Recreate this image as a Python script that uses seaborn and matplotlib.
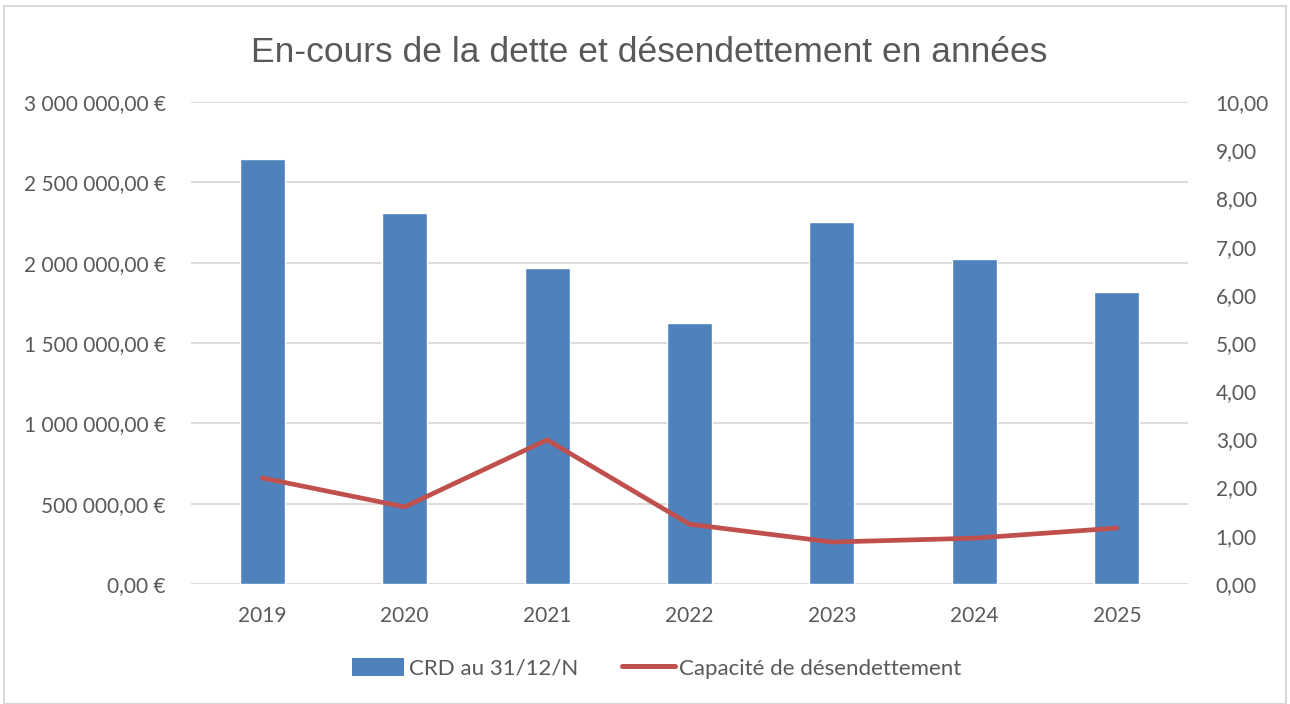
import matplotlib
matplotlib.use("Agg")
import matplotlib.pyplot as plt
import matplotlib.ticker as ticker
from matplotlib.patches import Rectangle
from matplotlib.lines import Line2D
from matplotlib.patches import Patch
import seaborn as sns
import numpy as np
import pandas as pd

# data
years = ["2019", "2020", "2021", "2022", "2023", "2024", "2025"]
crd = [2648000, 2312000, 1964000, 1627000, 2250000, 2020000, 1820000]
capacite = [2.20, 1.60, 2.99, 1.24, 0.87, 0.95, 1.16]

bar_color = "#4F81BD"
line_color = "#C0504D"
text_color = "#595959"
grid_color = "#D9D9D9"

sns.set_theme(style="white")
plt.rcParams["font.family"] = ["Lato", "DejaVu Sans"]

df = pd.DataFrame({"annee": years, "crd": crd, "capacite": capacite})

fig = plt.figure(figsize=(12.9, 7.04), dpi=100)
ax = fig.add_axes([0.1481, 0.1705, 0.7728, 0.6846])

sns.barplot(data=df, x="annee", y="crd", color=bar_color, width=0.315,
            saturation=1, ax=ax, zorder=2)
ax.set_ylim(0, 3000000)
ax.set_xlim(-0.5, len(years) - 0.5)
ax.yaxis.set_major_locator(ticker.MultipleLocator(500000))
ax.yaxis.set_major_formatter(ticker.FuncFormatter(
    lambda v, p: f"{v:,.2f}".replace(",", " ").replace(".", ",") + " €"))
ax.grid(axis="y", color=grid_color, linewidth=1.3, zorder=0)
ax.set_axisbelow(True)
ax.set_xlabel("")
ax.set_ylabel("")
for s in ax.spines.values():
    s.set_visible(False)
ax.tick_params(axis="both", length=0, labelsize=15, labelcolor=text_color)
ax.tick_params(axis="y", pad=18)
ax.tick_params(axis="x", pad=16)

ax2 = ax.twinx()
sns.lineplot(x=np.arange(len(years)), y=df["capacite"], color=line_color,
             linewidth=3.4, ax=ax2, solid_capstyle="round")
ax2.set_ylim(0, 10)
ax2.yaxis.set_major_locator(ticker.MultipleLocator(1))
ax2.yaxis.set_major_formatter(ticker.FuncFormatter(
    lambda v, p: f"{v:.2f}".replace(".", ",")))
ax2.set_ylabel("")
for s in ax2.spines.values():
    s.set_visible(False)
ax2.tick_params(axis="y", length=0, labelsize=15, labelcolor=text_color, pad=20)

fig.text(0.503, 0.925, "En-cours de la dette et désendettement en années",
         ha="center", va="center", fontsize=25.5, color=text_color,
         family=["Liberation Sans Narrow", "Liberation Sans", "DejaVu Sans"])

handles = [Patch(facecolor=bar_color, edgecolor="none"),
           Line2D([0], [0], color=line_color, linewidth=3.6, solid_capstyle="round")]
fig.legend(handles, ["CRD au 31/12/N", "Capacité de désendettement"],
           loc="center", bbox_to_anchor=(0.509, 0.051), ncol=2, frameon=False,
           fontsize=16, labelcolor=text_color, handlelength=2.35,
           handleheight=0.9, handletextpad=0.2, columnspacing=2.0)

fig.patches.append(Rectangle((0.003, 0.0), 0.994, 0.992, transform=fig.transFigure,
                             fill=False, edgecolor="#D9D9D9", linewidth=1.5))

fig.savefig("out.png", dpi=100, facecolor="white")
